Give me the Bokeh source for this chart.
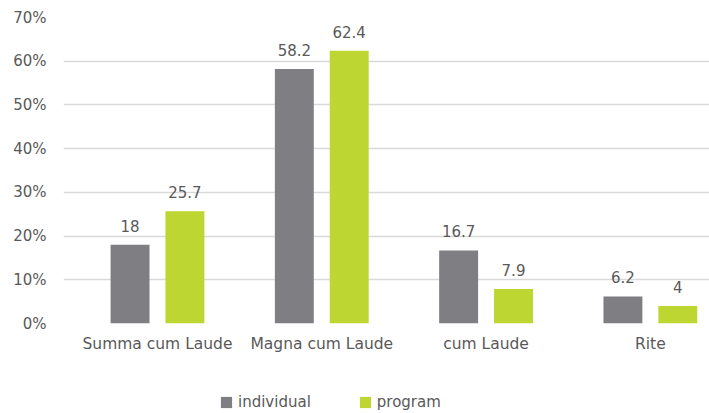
from bokeh.plotting import figure
from bokeh.models import ColumnDataSource, Legend, LegendItem, FixedTicker, Range1d
from bokeh.layouts import column
from bokeh.core.properties import value
from bokeh.embed import file_html
from bokeh.resources import INLINE

categories = ["Summa cum Laude", "Magna cum Laude", "cum Laude", "Rite"]
individual = [18, 58.2, 16.7, 6.2]
program = [25.7, 62.4, 7.9, 4]
series_names = ["individual", "program"]
y_ticks = [0, 10, 20, 30, 40, 50, 60, 70]
y_tick_labels = ["0%", "10%", "20%", "30%", "40%", "50%", "60%", "70%"]

FONT = "DejaVu Sans"
TXT = "#595959"
GREY = "#7f7f83"
GREEN = "#bdd631"
OFF = 0.167
BW = 0.237

centers = [i + 0.5 for i in range(len(categories))]
src = ColumnDataSource(dict(
    xi=[c - OFF for c in centers],
    xp=[c + OFF for c in centers],
    individual=individual,
    program=program,
    ind_lbl=[f"{v:g}" for v in individual],
    prog_lbl=[f"{v:g}" for v in program],
))

p = figure(x_range=Range1d(-0.072, 3.86), y_range=Range1d(0, 70), width=709, height=365,
           output_backend="svg", toolbar_location=None,
           min_border_left=63, min_border_right=0,
           min_border_top=17, min_border_bottom=42)
p.outline_line_color = None
p.background_fill_color = "white"
p.border_fill_color = "white"

p.vbar(x="xi", top="individual", width=BW, source=src, fill_color=GREY, line_color=None)
p.vbar(x="xp", top="program", width=BW, source=src, fill_color=GREEN, line_color=None)

p.text(x="xi", y="individual", text="ind_lbl", source=src,
       text_align="center", text_baseline="bottom", y_offset=-13,
       text_font=value(FONT), text_font_size="15px", text_color=TXT)
p.text(x="xp", y="program", text="prog_lbl", source=src,
       text_align="center", text_baseline="bottom", y_offset=-13,
       text_font=value(FONT), text_font_size="15px", text_color=TXT)

p.yaxis.ticker = FixedTicker(ticks=y_ticks)
p.yaxis.major_label_overrides = {t: l for t, l in zip(y_ticks, y_tick_labels)}
p.xaxis.ticker = FixedTicker(ticks=centers)
p.xaxis.major_label_overrides = {c: name for c, name in zip(centers, categories)}
for ax in (p.xaxis, p.yaxis):
    ax.axis_line_color = None
    ax.major_tick_line_color = None
    ax.minor_tick_line_color = None
    ax.major_label_text_font = FONT
    ax.major_label_text_font_size = "15px"
    ax.major_label_text_color = TXT
p.xaxis.major_label_text_font_size = "15.5px"
p.yaxis.major_label_standoff = 11
p.xaxis.major_label_standoff = 5

p.xgrid.grid_line_color = None
p.ygrid.grid_line_color = "#d9d9d9"
p.ygrid.grid_line_width = 1.6
p.ygrid.ticker = FixedTicker(ticks=y_ticks)

# legend strip below the chart
leg = figure(width=709, height=48, output_backend="svg", toolbar_location=None,
             x_axis_type=None, y_axis_type=None,
             min_border_left=63, min_border_right=0, min_border_top=0, min_border_bottom=0,
             x_range=Range1d(0, 1), y_range=Range1d(0, 1))
leg.outline_line_color = None
leg.xgrid.grid_line_color = None
leg.ygrid.grid_line_color = None
NaN = float("nan")
swatch_src = ColumnDataSource(dict(x=[NaN], top=[NaN]))
l1 = leg.vbar(x="x", top="top", width=0.1, source=swatch_src, fill_color=GREY, line_color=None)
l2 = leg.vbar(x="x", top="top", width=0.1, source=swatch_src, fill_color=GREEN, line_color=None)
legend = Legend(items=[LegendItem(label=series_names[0], renderers=[l1]),
                       LegendItem(label=series_names[1], renderers=[l2])],
                orientation="horizontal", location=(156, 2),
                label_text_font=FONT, label_text_font_size="15px", label_text_color=TXT,
                glyph_width=14, glyph_height=14, spacing=47, label_standoff=5,
                border_line_color=None, background_fill_alpha=0, margin=0, padding=4)
leg.add_layout(legend, "center")

layout = column(p, leg, spacing=0)
open("out.html", "w").write(file_html(layout, INLINE))
